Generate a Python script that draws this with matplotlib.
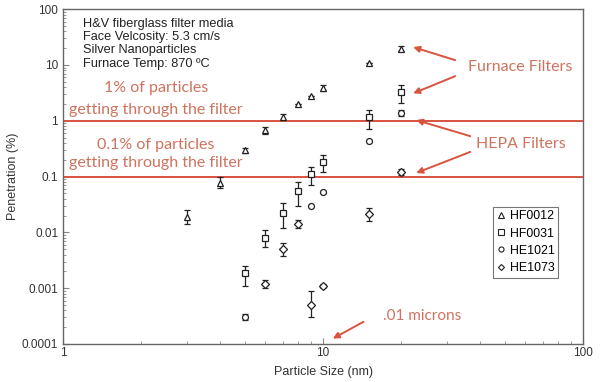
import numpy as np
import matplotlib
matplotlib.use("Agg")
import matplotlib.pyplot as plt
from matplotlib.lines import Line2D
from matplotlib.ticker import FixedLocator, FixedFormatter, LogLocator, NullFormatter

# particle size (nm), penetration (%), lower / upper error
hf0012_x = [3, 4, 5, 6, 7, 8, 9, 10, 15, 20]
hf0012_y = [0.019, 0.077, 0.30, 0.68, 1.17, 2.0, 2.8, 3.8, 10.7, 19.5]
hf0012_lo = [0.005, 0.015, 0.03, 0.1, 0.12, 0, 0, 0.4, 0, 2.0]
hf0012_hi = [0.006, 0.02, 0.03, 0.1, 0.15, 0, 0, 0.5, 0, 2.0]

hf0031_x = [5, 6, 7, 8, 9, 10, 15, 20]
hf0031_y = [0.0019, 0.008, 0.022, 0.055, 0.11, 0.18, 1.17, 3.3]
hf0031_lo = [0.0008, 0.0025, 0.01, 0.025, 0.04, 0.06, 0.45, 1.2]
hf0031_hi = [0.0006, 0.003, 0.012, 0.025, 0.04, 0.06, 0.4, 1.0]

he1021_x = [5, 9, 10, 15, 20]
he1021_y = [0.00031, 0.030, 0.053, 0.44, 1.38]
he1021_lo = [0.00004, 0, 0, 0, 0.15]
he1021_hi = [0.00004, 0, 0, 0, 0.15]

he1073_x = [6, 7, 8, 9, 10, 15, 20]
he1073_y = [0.0012, 0.005, 0.014, 0.0005, 0.0011, 0.021, 0.12]
he1073_lo = [0.0002, 0.0012, 0.002, 0.0002, 0.0001, 0.005, 0.015]
he1073_hi = [0.0002, 0.0015, 0.003, 0.0004, 0.0001, 0.006, 0.015]

y_ticks = [0.0001, 0.001, 0.01, 0.1, 1, 10, 100]
y_labels = ["0.0001", "0.001", "0.01", "0.1", "1", "10", "100"]

info_lines = ["H&V fiberglass filter media", "Face Velcosity: 5.3 cm/s",
              "Silver Nanoparticles", "Furnace Temp: 870 ºC"]

RED = "#d9533f"
TXT_RED = "#cf735f"

plt.rcParams["font.family"] = ["Liberation Sans", "DejaVu Sans"]

fig = plt.figure(figsize=(6, 3.82), dpi=100)
ax = fig.add_axes([0.105, 0.0995, 0.867, 0.8765])
ax.set_xscale("log")
ax.set_yscale("log")
ax.set_xlim(1, 100)
ax.set_ylim(0.0001, 100)

series = [
    ("HF0012", hf0012_x, hf0012_y, hf0012_lo, hf0012_hi, "^"),
    ("HF0031", hf0031_x, hf0031_y, hf0031_lo, hf0031_hi, "s"),
    ("HE1021", he1021_x, he1021_y, he1021_lo, he1021_hi, "o"),
    ("HE1073", he1073_x, he1073_y, he1073_lo, he1073_hi, "D"),
]
handles = []
for name, x, y, lo, hi, m in series:
    ms = 3.6 if m == "D" else 4.3
    ax.errorbar(x, y, yerr=[lo, hi], fmt=m, ms=ms, mfc="white", mec="#222222",
                mew=0.9, ecolor="#222222", elinewidth=0.9, capsize=2.5,
                capthick=0.9, zorder=3)
    handles.append(Line2D([], [], ls="none", marker=m, ms=ms * 0.85,
                          mfc="white", mec="#222222", mew=0.8, label=name))

# reference lines
ax.axhline(1, color=RED, lw=1.4, zorder=2)
ax.axhline(0.1, color=RED, lw=1.4, zorder=2)

ax.yaxis.set_major_locator(FixedLocator(y_ticks))
ax.yaxis.set_major_formatter(FixedFormatter(y_labels))
ax.yaxis.set_minor_locator(LogLocator(base=10, subs=np.arange(2, 10)))
ax.yaxis.set_minor_formatter(NullFormatter())
ax.xaxis.set_major_locator(FixedLocator([1, 10, 100]))
ax.xaxis.set_major_formatter(FixedFormatter(["1", "10", "100"]))
ax.xaxis.set_minor_locator(LogLocator(base=10, subs=np.arange(2, 10)))
ax.xaxis.set_minor_formatter(NullFormatter())
ax.tick_params(which="both", direction="in", colors="#888888",
               labelcolor="#333333", labelsize=8.5)
ax.tick_params(which="major", length=4)
ax.tick_params(which="minor", length=2.5)
ax.tick_params(axis="x", pad=2)
for s in ax.spines.values():
    s.set_color("#666666")
    s.set_linewidth(1.0)

ax.set_xlabel("Particle Size (nm)", fontsize=9, color="#333333", labelpad=5)
ax.set_ylabel("Penetration (%)", fontsize=9, color="#333333", labelpad=2)

for i, line in enumerate(info_lines):
    ax.text(0.038, 0.975 - i * 0.04, line, transform=ax.transAxes,
            fontsize=9.2, color="#222222", va="top", ha="left")

red_font = dict(family=["Lato", "DejaVu Sans"], color=TXT_RED, fontsize=11.5)
ax.text(2.28, 3.86, "1% of particles", ha="center", va="center", **red_font)
ax.text(2.28, 1.56, "getting through the filter", ha="center", va="center", **red_font)
ax.text(2.28, 0.37, "0.1% of particles", ha="center", va="center", **red_font)
ax.text(2.28, 0.176, "getting through the filter", ha="center", va="center", **red_font)
ax.text(57, 9.2, "Furnace Filters", ha="center", va="center", **red_font)
ax.text(57.5, 0.385, "HEPA Filters", ha="center", va="center", **red_font)
ax.text(24, 0.00032, ".01 microns", ha="center", va="center",
        **{**red_font, "fontsize": 11})

arrows = [
    ((32.2, 12.2), (22.2, 20.9)),
    ((32.2, 6.3), (22.2, 3.1)),
    ((36.8, 0.53), (22.8, 1.03)),
    ((36.8, 0.277), (22.8, 0.116)),
    ((14.3, 0.00025), (10.9, 0.000125)),
]
for start, end in arrows:
    ax.annotate("", xy=end, xytext=start,
                arrowprops=dict(arrowstyle="-|>", color=RED, lw=1.4,
                                mutation_scale=9, shrinkA=0, shrinkB=0))

leg = ax.legend(handles=handles, loc="upper left", bbox_to_anchor=(0.827, 0.41),
                fontsize=8.9, frameon=True, fancybox=False, handlelength=0.7,
                handletextpad=0.35, borderpad=0.3, labelspacing=0.42,
                borderaxespad=0)
leg.get_frame().set_edgecolor("#555555")
leg.get_frame().set_linewidth(0.8)

fig.savefig("out.png", dpi=100)
